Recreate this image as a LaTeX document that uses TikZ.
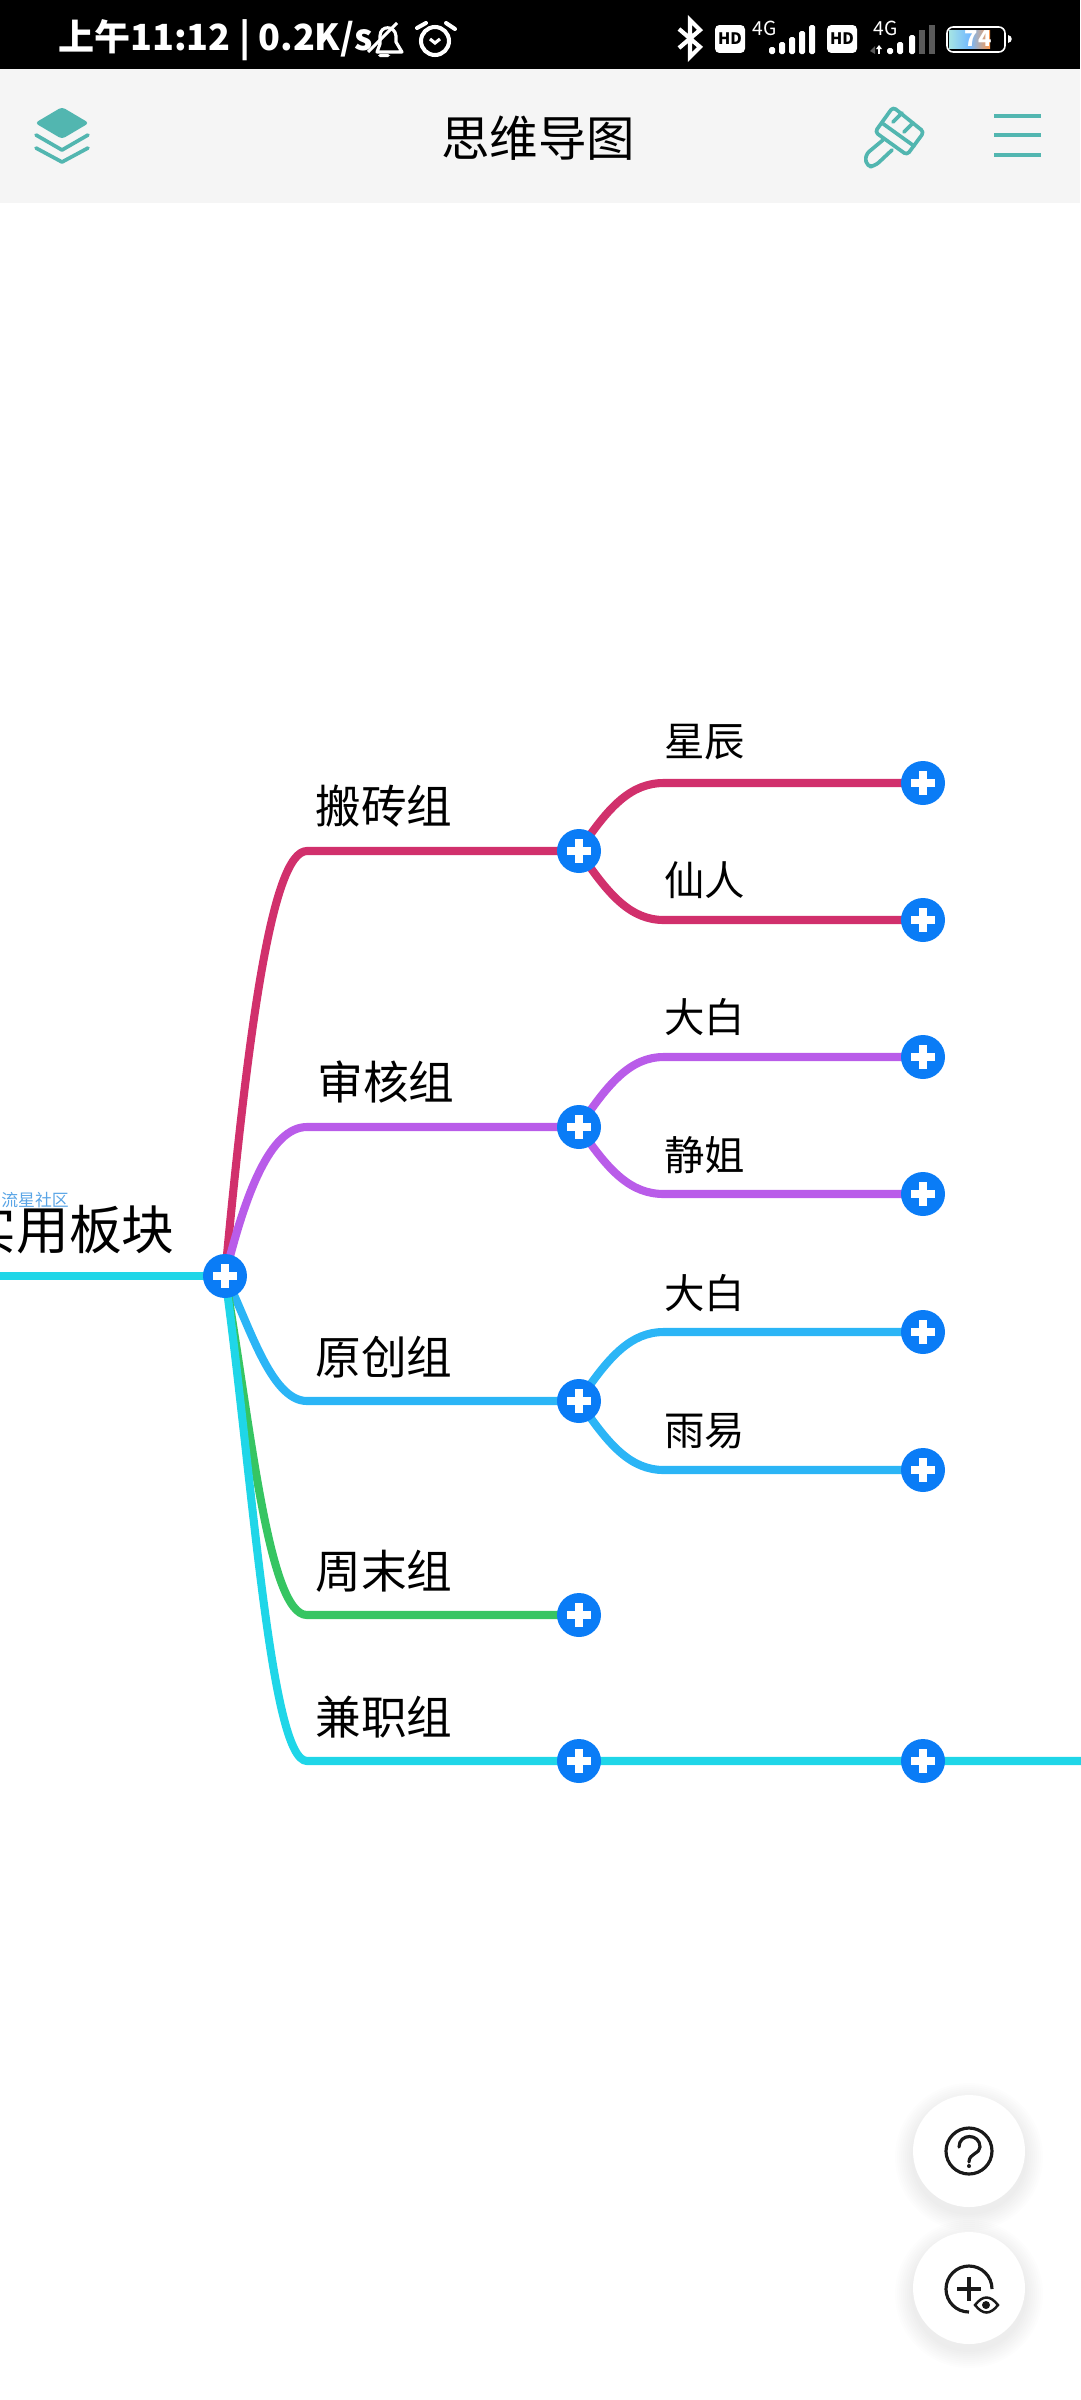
\documentclass[tikz,border=0pt]{standalone}
\usepackage{fontspec}
\usetikzlibrary{backgrounds,calc}
\setmainfont{Noto Sans CJK SC}
\definecolor{crimsonline}{HTML}{D1306C}
\definecolor{purpleline}{HTML}{B95CE9}
\definecolor{blueline}{HTML}{2BB5F6}
\definecolor{greenline}{HTML}{36C562}
\definecolor{cyanline}{HTML}{1FD6E8}
\definecolor{btnblue}{HTML}{0A7CF6}
\definecolor{tealicon}{HTML}{52B6B0}
\definecolor{barbg}{HTML}{F5F5F5}
\definecolor{logoblue}{HTML}{5AA5E6}
\definecolor{dimbar}{HTML}{5A5A5A}
\tikzset{
  plusbtn/.style={circle,fill=btnblue,minimum size=0.88cm,inner sep=0pt,
    path picture={
      \draw[white,line width=4.4pt] (path picture bounding box.center) ++(-12,0) -- ++(24,0);
      \draw[white,line width=4.4pt] (path picture bounding box.center) ++(0,-12) -- ++(0,24);
    }},
  link/.style={line width=4.6pt,line cap=round},
  topic/.style={inner sep=0pt,font=\fontsize{26}{26}\selectfont},
  subtopic/.style={inner sep=0pt,font=\fontsize{23}{23}\selectfont},
  fab/.style={circle,fill=white,minimum size=2.24cm,inner sep=0pt},
  hdbadge/.style={fill=white,rounded corners=2.5pt,minimum width=0.6cm,minimum height=0.56cm,inner sep=0pt,
    text=black,font=\fontsize{9}{9}\selectfont\bfseries},
  tinytext/.style={inner sep=0pt,text=white,font=\fontsize{11}{11}\selectfont},
  tealstroke/.style={draw=tealicon,line width=2.1pt,line cap=round,line join=round},
  fabstroke/.style={draw=black!90,line width=1.8pt}
}
\begin{document}
\begin{tikzpicture}[x=0.02cm,y=-0.02cm]
  \useasboundingbox (0,0) rectangle (1080,2400);
  \clip (0,0) rectangle (1080,2400);

  % status bar
  \fill[black] (0,0) rectangle (1080,69);
  \fill[barbg] (0,69) rectangle (1080,203);
  \node[anchor=west,inner sep=0pt,text=white,font=\fontsize{20.5}{20.5}\selectfont\bfseries] (statustext) at (58,40) {上午11:12 | 0.2K/s};

  % bell and alarm
  \draw[white,line width=1.8pt,line join=round] (377,52) -- (380,44) -- (380,36) .. controls (380,25) and (395,25) .. (396,36) -- (396,42) -- (402,52) -- cycle;
  \draw[white,line width=1.8pt] (368,52) -- (397,23);
  \fill[white,rounded corners=1pt] (378,54) rectangle (390,57);
  \draw[white,line width=2.3pt] (435,41) circle (14);
  \draw[white,line width=2.3pt,line cap=round] (417,28) -- (426,23);
  \draw[white,line width=2.3pt,line cap=round] (455,29) -- (446,23);
  \draw[white,line width=1.8pt] (430,39) -- (435,43) -- (440,39);

  % bluetooth
  \draw[white,line width=2.4pt,line join=miter] (679,29) -- (700,47) -- (690,57) -- (690,20) -- (700,30) -- (679,48);

  % signal block
  \node[hdbadge] (hdone) at (730,39) {HD};
  \node[hdbadge] (hdtwo) at (842,39) {HD};
  \node[tinytext] (fourgone) at (765,28) {4G};
  \node[tinytext] (fourgtwo) at (886,28) {4G};
  \foreach \x/\h in {772/7,782/12,792/17,802/23,812/29} {
    \fill[white,rounded corners=1pt] (\x-3,54) rectangle (\x+3,54-\h);
  }
  \foreach \x/\h in {890/6,900/12,912/19} {
    \fill[white,rounded corners=1pt] (\x-3,54) rectangle (\x+3,54-\h);
  }
  \foreach \x/\h in {922/24,932/29} {
    \fill[dimbar] (\x-3,54) rectangle (\x+3,54-\h);
  }
  \fill[dimbar] (870,51) -- (875,46) -- (875,54) -- cycle;
  \draw[white,line width=1.4pt] (879,54) -- (879,47);
  \fill[white] (876,49) -- (879,45) -- (882,49) -- cycle;

  % battery
  \shade[left color=cyan!40!teal!35!white,right color=orange!60!pink,middle color=blue!50!cyan!55] (949,30) rectangle (990,48);
  \draw[white,line width=0.9pt,rounded corners=3.5pt] (947,27) rectangle (1005,52);
  \fill[white] (1008,35) .. controls (1013,36) and (1013,42) .. (1008,43) -- cycle;
  \node[inner sep=0pt,text=white,font=\fontsize{12.5}{12.5}\selectfont\bfseries] (batterytext) at (978,39) {74};

  % toolbar
  \node[inner sep=0pt,text=black,font=\fontsize{27.6}{27.6}\selectfont] (title) at (538,138) {思维导图};
  \fill[tealicon,rounded corners=2pt] (62,107) -- (89,123) -- (62,139) -- (35,123) -- cycle;
  \draw[tealstroke] (36,135) -- (62,150) -- (88,135);
  \draw[tealstroke] (36,148) -- (62,162) -- (88,148);
  \draw[tealstroke,rounded corners=2pt] (893,107) -- (924,132) -- (907,155) -- (875,132) -- cycle;
  \draw[tealstroke] (882,123) -- (914,146);
  \draw[tealstroke] (902,113) -- (893,122);
  \draw[tealstroke] (913,123) -- (904,132);
  \draw[tealstroke,rounded corners=3pt] (883,140) -- (865,155) -- (867,167) -- (875,166) -- (892,150);
  \foreach \y in {116,135,155} {
    \draw[tealicon,line width=2.3pt] (994,\y) -- (1041,\y);
  }

  % root
  \node[plusbtn] (root) at (225,1276) {};
  \node[anchor=east,inner sep=0pt,text=black,font=\fontsize{30}{30}\selectfont] (roottext) at (175,1229) {实用板块};
  \node[anchor=west,inner sep=0pt,text=logoblue,font=\fontsize{9.6}{9.6}\selectfont] (logotext) at (1,1200) {流星社区};
  \coordinate (leftend) at (0,1276);
  \coordinate (rightend) at (1090,1761);

  % first level
  \node[plusbtn] (banzhuan) at (579,851) {};
  \node[plusbtn] (shenhe) at (579,1127) {};
  \node[plusbtn] (yuanchuang) at (579,1401) {};
  \node[plusbtn] (zhoumo) at (579,1615) {};
  \node[plusbtn] (jianzhi) at (579,1761) {};
  \node[plusbtn] (jianzhinext) at (923,1761) {};
  \coordinate (banzhuanbend) at (307,851);
  \coordinate (shenhebend) at (307,1127);
  \coordinate (yuanchuangbend) at (307,1401);
  \coordinate (zhoumobend) at (307,1615);
  \coordinate (jianzhibend) at (307,1761);
  \node[topic,anchor=west] (banzhuantext) at (315,806) {搬砖组};
  \node[topic,anchor=west] (shenhetext) at (317,1082) {审核组};
  \node[topic,anchor=west] (yuanchuangtext) at (315,1357) {原创组};
  \node[topic,anchor=west] (zhoumotext) at (315,1571) {周末组};
  \node[topic,anchor=west] (jianzhitext) at (315,1717) {兼职组};

  % second level
  \foreach \name/\y in {xingchen/783,xianren/920,dabaione/1057,jingjie/1194,dabaitwo/1332,yuyi/1470} {
    \node[plusbtn] (\name) at (923,\y) {};
    \coordinate (\name bend) at (664,\y);
  }
  \node[subtopic,anchor=west] (xingchentext) at (664,742) {星辰};
  \node[subtopic,anchor=west] (xianrentext) at (664,880) {仙人};
  \node[subtopic,anchor=west] (dabaionetext) at (664,1017) {大白};
  \node[subtopic,anchor=west] (jingjietext) at (664,1155) {静姐};
  \node[subtopic,anchor=west] (dabaitwotext) at (664,1293) {大白};
  \node[subtopic,anchor=west] (yuyitext) at (664,1431) {雨易};

  % connectors
  \begin{scope}[on background layer]
    \draw[link,cyanline] (leftend) -- (root.center);
    \draw[link,crimsonline] (root.center) .. controls (248,1030) and (272,851) .. (banzhuanbend) -- (banzhuan.center);
    \draw[link,purpleline] (root.center) .. controls (245,1195) and (270,1127) .. (shenhebend) -- (shenhe.center);
    \draw[link,blueline] (root.center) .. controls (248,1320) and (270,1401) .. (yuanchuangbend) -- (yuanchuang.center);
    \draw[link,greenline] (root.center) .. controls (250,1420) and (268,1615) .. (zhoumobend) -- (zhoumo.center);
    \draw[link,cyanline] (root.center) .. controls (252,1470) and (270,1761) .. (jianzhibend) -- (jianzhi.center) -- (jianzhinext.center) -- (rightend);
    \foreach \parent/\child/\col/\dy in {banzhuan/xingchen/crimsonline/-45,banzhuan/xianren/crimsonline/45,shenhe/dabaione/purpleline/-45,shenhe/jingjie/purpleline/45,yuanchuang/dabaitwo/blueline/-45,yuanchuang/yuyi/blueline/45} {
      \draw[link,\col] (\parent.center) .. controls ($(\parent.center)+(30,\dy)$) and ($(\child bend)+(-33,0)$) .. (\child bend) -- (\child.center);
    }
  \end{scope}

  % floating buttons
  \foreach \fy in {2151,2288} {
    \foreach \r in {58,60,...,74} {
      \fill[black,opacity=0.006] (969,\fy+6) circle (\r);
    }
  }
  \node[fab] (helpbtn) at (969,2151) {};
  \node[fab] (zoombtn) at (969,2288) {};
  \draw[fabstroke] (helpbtn.center) circle (23);
  \draw[fabstroke,line cap=round] (959,2147) .. controls (959,2133) and (980,2133) .. (980,2147) .. controls (980,2154) and (969,2153) .. (969,2162);
  \fill[black!90] (969,2166) circle (2);
  \draw[fabstroke] (969,2312) arc (90:360:23);
  \draw[fabstroke] (957,2289) -- (981,2289);
  \draw[fabstroke] (969,2277) -- (969,2301);
  \draw[black!90,line width=1.4pt] (975,2305) .. controls (983,2295) and (990,2295) .. (998,2305) .. controls (990,2315) and (983,2315) .. (975,2305) -- cycle;
  \fill[black!90] (986,2305) circle (4);
\end{tikzpicture}
\end{document}
